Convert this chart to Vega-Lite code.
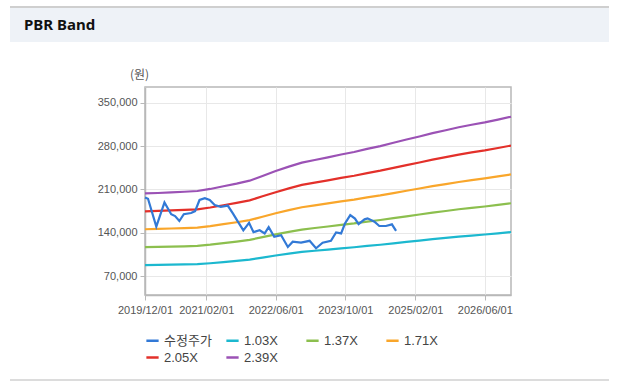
{
  "$schema": "https://vega.github.io/schema/vega-lite/v6.json",
  "background": "white",
  "padding": {"left": 10, "top": 6, "right": 0, "bottom": 0},
  "config": {"font": "Liberation Sans, Noto Sans CJK KR", "view": {"stroke": null}},
  "datasets": {
    "blank": [{"k": 1}],
    "bands": [
      {"date": "2019/12/01", "series": "1.03X", "value": 87800}, {"date": "2019/12/01", "series": "1.37X", "value": 116700}, {"date": "2019/12/01", "series": "1.71X", "value": 145700}, {"date": "2019/12/01", "series": "2.05X", "value": 174700}, {"date": "2019/12/01", "series": "2.39X", "value": 203600},
      {"date": "2020/03/01", "series": "1.03X", "value": 88100}, {"date": "2020/03/01", "series": "1.37X", "value": 117100}, {"date": "2020/03/01", "series": "1.71X", "value": 146200}, {"date": "2020/03/01", "series": "2.05X", "value": 175300}, {"date": "2020/03/01", "series": "2.39X", "value": 204300},
      {"date": "2020/06/01", "series": "1.03X", "value": 88500}, {"date": "2020/06/01", "series": "1.37X", "value": 117700}, {"date": "2020/06/01", "series": "1.71X", "value": 146900}, {"date": "2020/06/01", "series": "2.05X", "value": 176100}, {"date": "2020/06/01", "series": "2.39X", "value": 205300},
      {"date": "2020/09/01", "series": "1.03X", "value": 88900}, {"date": "2020/09/01", "series": "1.37X", "value": 118200}, {"date": "2020/09/01", "series": "1.71X", "value": 147600}, {"date": "2020/09/01", "series": "2.05X", "value": 176900}, {"date": "2020/09/01", "series": "2.39X", "value": 206300},
      {"date": "2020/12/01", "series": "1.03X", "value": 89400}, {"date": "2020/12/01", "series": "1.37X", "value": 118900}, {"date": "2020/12/01", "series": "1.71X", "value": 148400}, {"date": "2020/12/01", "series": "2.05X", "value": 177900}, {"date": "2020/12/01", "series": "2.39X", "value": 207500},
      {"date": "2021/03/01", "series": "1.03X", "value": 90800}, {"date": "2021/03/01", "series": "1.37X", "value": 120800}, {"date": "2021/03/01", "series": "1.71X", "value": 150800}, {"date": "2021/03/01", "series": "2.05X", "value": 180800}, {"date": "2021/03/01", "series": "2.39X", "value": 210800},
      {"date": "2021/06/01", "series": "1.03X", "value": 92700}, {"date": "2021/06/01", "series": "1.37X", "value": 123300}, {"date": "2021/06/01", "series": "1.71X", "value": 153900}, {"date": "2021/06/01", "series": "2.05X", "value": 184500}, {"date": "2021/06/01", "series": "2.39X", "value": 215100},
      {"date": "2021/09/01", "series": "1.03X", "value": 94600}, {"date": "2021/09/01", "series": "1.37X", "value": 125800}, {"date": "2021/09/01", "series": "1.71X", "value": 157000}, {"date": "2021/09/01", "series": "2.05X", "value": 188200}, {"date": "2021/09/01", "series": "2.39X", "value": 219400},
      {"date": "2021/12/01", "series": "1.03X", "value": 96600}, {"date": "2021/12/01", "series": "1.37X", "value": 128500}, {"date": "2021/12/01", "series": "1.71X", "value": 160400}, {"date": "2021/12/01", "series": "2.05X", "value": 192300}, {"date": "2021/12/01", "series": "2.39X", "value": 224200},
      {"date": "2022/03/01", "series": "1.03X", "value": 99900}, {"date": "2022/03/01", "series": "1.37X", "value": 132900}, {"date": "2022/03/01", "series": "1.71X", "value": 165900}, {"date": "2022/03/01", "series": "2.05X", "value": 198900}, {"date": "2022/03/01", "series": "2.39X", "value": 231800},
      {"date": "2022/06/01", "series": "1.03X", "value": 103300}, {"date": "2022/06/01", "series": "1.37X", "value": 137400}, {"date": "2022/06/01", "series": "1.71X", "value": 171500}, {"date": "2022/06/01", "series": "2.05X", "value": 205600}, {"date": "2022/06/01", "series": "2.39X", "value": 239700},
      {"date": "2022/09/01", "series": "1.03X", "value": 106400}, {"date": "2022/09/01", "series": "1.37X", "value": 141500}, {"date": "2022/09/01", "series": "1.71X", "value": 176600}, {"date": "2022/09/01", "series": "2.05X", "value": 211800}, {"date": "2022/09/01", "series": "2.39X", "value": 246900},
      {"date": "2022/12/01", "series": "1.03X", "value": 109200}, {"date": "2022/12/01", "series": "1.37X", "value": 145200}, {"date": "2022/12/01", "series": "1.71X", "value": 181300}, {"date": "2022/12/01", "series": "2.05X", "value": 217300}, {"date": "2022/12/01", "series": "2.39X", "value": 253300},
      {"date": "2023/03/01", "series": "1.03X", "value": 111000}, {"date": "2023/03/01", "series": "1.37X", "value": 147700}, {"date": "2023/03/01", "series": "1.71X", "value": 184300}, {"date": "2023/03/01", "series": "2.05X", "value": 221000}, {"date": "2023/03/01", "series": "2.39X", "value": 257600},
      {"date": "2023/06/01", "series": "1.03X", "value": 112900}, {"date": "2023/06/01", "series": "1.37X", "value": 150200}, {"date": "2023/06/01", "series": "1.71X", "value": 187400}, {"date": "2023/06/01", "series": "2.05X", "value": 224700}, {"date": "2023/06/01", "series": "2.39X", "value": 261900},
      {"date": "2023/09/01", "series": "1.03X", "value": 114800}, {"date": "2023/09/01", "series": "1.37X", "value": 152800}, {"date": "2023/09/01", "series": "1.71X", "value": 190700}, {"date": "2023/09/01", "series": "2.05X", "value": 228600}, {"date": "2023/09/01", "series": "2.39X", "value": 266500},
      {"date": "2023/12/01", "series": "1.03X", "value": 116600}, {"date": "2023/12/01", "series": "1.37X", "value": 155100}, {"date": "2023/12/01", "series": "1.71X", "value": 193600}, {"date": "2023/12/01", "series": "2.05X", "value": 232100}, {"date": "2023/12/01", "series": "2.39X", "value": 270500},
      {"date": "2024/03/01", "series": "1.03X", "value": 118800}, {"date": "2024/03/01", "series": "1.37X", "value": 158000}, {"date": "2024/03/01", "series": "1.71X", "value": 197200}, {"date": "2024/03/01", "series": "2.05X", "value": 236400}, {"date": "2024/03/01", "series": "2.39X", "value": 275600},
      {"date": "2024/06/01", "series": "1.03X", "value": 120700}, {"date": "2024/06/01", "series": "1.37X", "value": 160600}, {"date": "2024/06/01", "series": "1.71X", "value": 200400}, {"date": "2024/06/01", "series": "2.05X", "value": 240300}, {"date": "2024/06/01", "series": "2.39X", "value": 280100},
      {"date": "2024/09/01", "series": "1.03X", "value": 123000}, {"date": "2024/09/01", "series": "1.37X", "value": 163600}, {"date": "2024/09/01", "series": "1.71X", "value": 204200}, {"date": "2024/09/01", "series": "2.05X", "value": 244800}, {"date": "2024/09/01", "series": "2.39X", "value": 285400},
      {"date": "2024/12/01", "series": "1.03X", "value": 125200}, {"date": "2024/12/01", "series": "1.37X", "value": 166600}, {"date": "2024/12/01", "series": "1.71X", "value": 207900}, {"date": "2024/12/01", "series": "2.05X", "value": 249300}, {"date": "2024/12/01", "series": "2.39X", "value": 290600},
      {"date": "2025/03/01", "series": "1.03X", "value": 127400}, {"date": "2025/03/01", "series": "1.37X", "value": 169500}, {"date": "2025/03/01", "series": "1.71X", "value": 211500}, {"date": "2025/03/01", "series": "2.05X", "value": 253600}, {"date": "2025/03/01", "series": "2.39X", "value": 295600},
      {"date": "2025/06/01", "series": "1.03X", "value": 129700}, {"date": "2025/06/01", "series": "1.37X", "value": 172500}, {"date": "2025/06/01", "series": "1.71X", "value": 215300}, {"date": "2025/06/01", "series": "2.05X", "value": 258100}, {"date": "2025/06/01", "series": "2.39X", "value": 300900},
      {"date": "2025/09/01", "series": "1.03X", "value": 131700}, {"date": "2025/09/01", "series": "1.37X", "value": 175200}, {"date": "2025/09/01", "series": "1.71X", "value": 218700}, {"date": "2025/09/01", "series": "2.05X", "value": 262200}, {"date": "2025/09/01", "series": "2.39X", "value": 305700},
      {"date": "2025/12/01", "series": "1.03X", "value": 133800}, {"date": "2025/12/01", "series": "1.37X", "value": 178000}, {"date": "2025/12/01", "series": "1.71X", "value": 222100}, {"date": "2025/12/01", "series": "2.05X", "value": 266300}, {"date": "2025/12/01", "series": "2.39X", "value": 310500},
      {"date": "2026/03/01", "series": "1.03X", "value": 135500}, {"date": "2026/03/01", "series": "1.37X", "value": 180300}, {"date": "2026/03/01", "series": "1.71X", "value": 225000}, {"date": "2026/03/01", "series": "2.05X", "value": 269800}, {"date": "2026/03/01", "series": "2.39X", "value": 314500},
      {"date": "2026/06/01", "series": "1.03X", "value": 137200}, {"date": "2026/06/01", "series": "1.37X", "value": 182500}, {"date": "2026/06/01", "series": "1.71X", "value": 227800}, {"date": "2026/06/01", "series": "2.05X", "value": 273100}, {"date": "2026/06/01", "series": "2.39X", "value": 318300},
      {"date": "2026/09/01", "series": "1.03X", "value": 139200}, {"date": "2026/09/01", "series": "1.37X", "value": 185100}, {"date": "2026/09/01", "series": "1.71X", "value": 231000}, {"date": "2026/09/01", "series": "2.05X", "value": 277000}, {"date": "2026/09/01", "series": "2.39X", "value": 322900},
      {"date": "2026/12/01", "series": "1.03X", "value": 141100}, {"date": "2026/12/01", "series": "1.37X", "value": 187700}, {"date": "2026/12/01", "series": "1.71X", "value": 234300}, {"date": "2026/12/01", "series": "2.05X", "value": 280900}, {"date": "2026/12/01", "series": "2.39X", "value": 327400}
    ],
    "price": [
      {"date": "2019/12/01", "series": "수정주가", "value": 197000},
      {"date": "2019/12/22", "series": "수정주가", "value": 195000},
      {"date": "2020/02/18", "series": "수정주가", "value": 150000},
      {"date": "2020/04/15", "series": "수정주가", "value": 189000},
      {"date": "2020/06/01", "series": "수정주가", "value": 170000},
      {"date": "2020/06/28", "series": "수정주가", "value": 167000},
      {"date": "2020/07/28", "series": "수정주가", "value": 159000},
      {"date": "2020/08/28", "series": "수정주가", "value": 170000},
      {"date": "2020/10/18", "series": "수정주가", "value": 172000},
      {"date": "2020/11/15", "series": "수정주가", "value": 175000},
      {"date": "2020/12/16", "series": "수정주가", "value": 193000},
      {"date": "2021/01/22", "series": "수정주가", "value": 196000},
      {"date": "2021/02/25", "series": "수정주가", "value": 193000},
      {"date": "2021/04/01", "series": "수정주가", "value": 185000},
      {"date": "2021/05/13", "series": "수정주가", "value": 182000},
      {"date": "2021/07/01", "series": "수정주가", "value": 184000},
      {"date": "2021/08/07", "series": "수정주가", "value": 171000},
      {"date": "2021/09/10", "series": "수정주가", "value": 158000},
      {"date": "2021/10/18", "series": "수정주가", "value": 144000},
      {"date": "2021/11/27", "series": "수정주가", "value": 156000},
      {"date": "2021/12/28", "series": "수정주가", "value": 141000},
      {"date": "2022/02/09", "series": "수정주가", "value": 144000},
      {"date": "2022/03/16", "series": "수정주가", "value": 139000},
      {"date": "2022/04/13", "series": "수정주가", "value": 149000},
      {"date": "2022/05/22", "series": "수정주가", "value": 133500},
      {"date": "2022/07/09", "series": "수정주가", "value": 136000},
      {"date": "2022/08/25", "series": "수정주가", "value": 117000},
      {"date": "2022/09/28", "series": "수정주가", "value": 125500},
      {"date": "2022/11/25", "series": "수정주가", "value": 124000},
      {"date": "2023/01/24", "series": "수정주가", "value": 127000},
      {"date": "2023/03/10", "series": "수정주가", "value": 115000},
      {"date": "2023/04/25", "series": "수정주가", "value": 124000},
      {"date": "2023/06/22", "series": "수정주가", "value": 127000},
      {"date": "2023/07/28", "series": "수정주가", "value": 140600},
      {"date": "2023/09/01", "series": "수정주가", "value": 139000},
      {"date": "2023/09/28", "series": "수정주가", "value": 155000},
      {"date": "2023/11/04", "series": "수정주가", "value": 168600},
      {"date": "2023/12/07", "series": "수정주가", "value": 163000},
      {"date": "2024/01/01", "series": "수정주가", "value": 154000},
      {"date": "2024/02/12", "series": "수정주가", "value": 161700},
      {"date": "2024/03/04", "series": "수정주가", "value": 163300},
      {"date": "2024/04/21", "series": "수정주가", "value": 158000},
      {"date": "2024/05/25", "series": "수정주가", "value": 151000},
      {"date": "2024/07/10", "series": "수정주가", "value": 151000},
      {"date": "2024/08/21", "series": "수정주가", "value": 153600},
      {"date": "2024/09/19", "series": "수정주가", "value": 143000}
    ]
  },
  "spacing": 25,
  "vconcat": [
    {
      "spacing": 0,
      "vconcat": [
        {
          "width": 599, "height": 2,
          "view": {"fill": "#cfcfcf", "stroke": null},
          "data": {"name": "blank"},
          "mark": {"type": "rect", "opacity": 0},
          "encoding": {}
        },
        {
          "width": 599, "height": 34,
          "view": {"fill": "#eef2f7", "stroke": null},
          "title": {"text": "PBR Band", "anchor": "start", "frame": "group", "offset": -37, "dx": 14, "baseline": "alphabetic", "fontSize": 15, "fontWeight": "bold", "font": "Noto Sans", "color": "#111111"},
          "data": {"name": "blank"},
          "mark": {"type": "rect", "opacity": 0},
          "encoding": {}
        }
      ]
    },
    {
      "spacing": 13,
      "vconcat": [
        {
          "spacing": 0,
          "resolve": {"scale": {"color": "independent"}, "legend": {"color": "independent"}},
          "hconcat": [
            {
              "width": 86, "height": 208,
              "data": {"name": "blank"},
              "mark": {"type": "rect", "opacity": 0},
              "encoding": {}
            },
            {
              "width": 366, "height": 208,
              "view": {"stroke": "#b8b8b8", "strokeWidth": 1.5},
              "encoding": {
                "x": {
                  "field": "date", "type": "temporal",
                  "scale": {"domain": [{"year": 2019, "month": 12, "date": 1}, {"year": 2026, "month": 12, "date": 1}]},
                  "axis": {
                    "title": null,
                    "values": [{"year": 2019, "month": 12, "date": 1}, {"year": 2021, "month": 2, "date": 1}, {"year": 2022, "month": 6, "date": 1}, {"year": 2023, "month": 10, "date": 1}, {"year": 2025, "month": 2, "date": 1}, {"year": 2026, "month": 6, "date": 1}],
                    "format": "%Y/%m/%d",
                    "labelFlush": false, "labelOverlap": false,
                    "labelFontSize": 11, "labelColor": "#555555", "labelPadding": 4,
                    "tickSize": 5, "tickColor": "#b8b8b8",
                    "domainColor": "#b8b8b8", "domainWidth": 1.5,
                    "gridColor": "#e8e8e8"
                  }
                },
                "y": {
                  "field": "value", "type": "quantitative",
                  "scale": {"domain": [39500, 375500], "nice": false, "zero": false},
                  "axis": {
                    "values": [70000, 140000, 210000, 280000, 350000],
                    "format": ",d",
                    "title": "(원)", "titleAngle": 0, "titleX": -6, "titleY": -9,
                    "titleAlign": "center", "titleBaseline": "alphabetic",
                    "titleFont": "Noto Sans CJK KR", "titleFontSize": 12, "titleFontWeight": "normal", "titleColor": "#555555",
                    "labelFontSize": 11, "labelColor": "#555555", "labelPadding": 3,
                    "tickSize": 5, "tickColor": "#b8b8b8",
                    "domainColor": "#b8b8b8", "domainWidth": 1.5,
                    "gridColor": "#e8e8e8"
                  }
                },
                "color": {
                  "field": "series", "type": "nominal",
                  "scale": {
                    "domain": ["수정주가", "1.03X", "1.37X", "1.71X", "2.05X", "2.39X"],
                    "range": ["#3279d6", "#1cb8cf", "#8cbf4e", "#f9a62b", "#e3302a", "#9b52b5"]
                  },
                  "legend": {
                    "title": null, "orient": "bottom", "direction": "horizontal",
                    "columns": 4, "gridAlign": "all",
                    "symbolType": "stroke", "symbolStrokeWidth": 2.5, "symbolSize": 150,
                    "labelFontSize": 13, "labelColor": "#444444",
                    "columnPadding": 9, "rowPadding": 2, "offset": 18
                  }
                }
              },
              "layer": [
                {"data": {"name": "bands"}, "mark": {"type": "line", "strokeWidth": 2.2}},
                {"data": {"name": "price"}, "mark": {"type": "line", "strokeWidth": 2.2}}
              ]
            }
          ]
        },
        {
          "width": 599, "height": 2,
          "view": {"fill": "#dcdcdc", "stroke": null},
          "data": {"name": "blank"},
          "mark": {"type": "rect", "opacity": 0},
          "encoding": {}
        }
      ]
    }
  ]
}
